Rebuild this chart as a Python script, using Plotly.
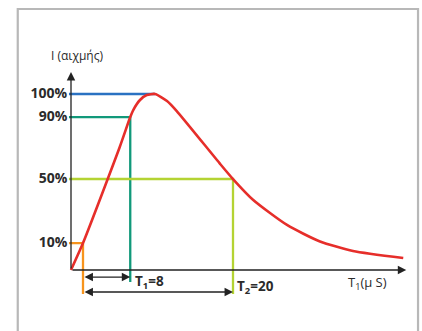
import plotly.graph_objects as go

# Curve of the impulse current (schematic units)
curve_x = [0, 1.6, 6.5, 7.9, 8.3, 9.2, 10.1, 11.2, 12.8, 14.1, 19.9, 21.6, 24.3, 28.8, 33.2, 37.6, 44.3]
curve_y = [0, 15.3, 69.9, 86.9, 90.9, 96.6, 99.4, 100, 96, 90.3, 60.2, 51.7, 39.8, 25.6, 16.2, 10.8, 6.8]

# Reference levels on the y axis
level_labels = ['100%', '90%', '50%', '10%']
level_y = [100, 86.9, 51.7, 15.3]
level_x = [11.2, 7.9, 21.6, 1.6]
level_colors = ['#2a72c2', '#11997a', '#b4d333', '#f7941d']
drop_to = [None, -6.8, -13.6, -13.6]

x_max = 44.7
y_max = 112.5

fig = go.Figure()

# outer frame (grey box, open at the bottom of the picture)
fig.add_trace(go.Scatter(x=[-7.1, -7.1, 46.27, 46.27], y=[-34.6, 148.3, 148.3, -34.6], mode='lines',
                         line=dict(color='#b8b8b8', width=2.2), hoverinfo='skip'))

# horizontal level lines and vertical drops
for lab, yv, xv, col, yd in zip(level_labels, level_y, level_x, level_colors, drop_to):
    xs = [-0.27, xv]
    ys = [yv, yv]
    if yd is not None:
        xs.append(xv)
        ys.append(yd)
    fig.add_trace(go.Scatter(x=xs, y=ys, mode='lines',
                             line=dict(color=col, width=2.3), hoverinfo='skip'))

# red curve
fig.add_trace(go.Scatter(x=curve_x, y=curve_y, mode='lines',
                         line=dict(color='#e62e2a', width=2.6, shape='spline', smoothing=0.6),
                         hoverinfo='skip'))

# tick labels
fig.add_trace(go.Scatter(x=[-0.5] * 4, y=level_y, mode='text', text=level_labels,
                         textposition='middle left',
                         textfont=dict(family='Open Sans', size=14, color='#2b2b2b', weight='bold'),
                         hoverinfo='skip'))

arrow = dict(showarrow=True, text='', axref='x', ayref='y', xref='x', yref='y',
             arrowcolor='#222222', arrowwidth=1.3, arrowhead=2, arrowsize=1.3)

# axes with arrows
fig.add_annotation(x=0, y=y_max, ax=0, ay=0, **arrow)
fig.add_annotation(x=x_max, y=0, ax=0, ay=0, **arrow)

# duration arrows T1 and T2
fig.add_annotation(x=7.9, y=-4.0, ax=1.6, ay=-4.0, arrowside='end+start', startarrowhead=2,
                   startarrowsize=1.3, **arrow)
fig.add_annotation(x=21.6, y=-12.5, ax=1.6, ay=-12.5, arrowside='end+start', startarrowhead=2,
                   startarrowsize=1.3, **arrow)

txt = dict(showarrow=False, xref='x', yref='y', xanchor='left',
           font=dict(family='Open Sans', size=13.5, color='#2b2b2b', weight='bold'))
fig.add_annotation(x=8.2, y=-6.8, text='T<sub>1</sub>=8', **txt)
fig.add_annotation(x=21.8, y=-9.7, text='T<sub>2</sub>=20', **txt)
fig.add_annotation(x=36.7, y=-7.4, text='T<sub>1</sub>(μ S)', showarrow=False, xref='x', yref='y',
                   xanchor='left', font=dict(family='Open Sans', size=13, color='#2b2b2b'))
fig.add_annotation(x=0.8, y=121.6, text='I (αιχμής)', showarrow=False, xref='x', yref='y',
                   font=dict(family='Open Sans', size=12, color='#2b2b2b'))

fig.update_layout(
    width=422, height=331,
    margin=dict(l=0, r=0, t=0, b=0),
    paper_bgcolor='white', plot_bgcolor='white',
    showlegend=False,
    xaxis=dict(range=[-71 / 7.5, 351 / 7.5], visible=False),
    yaxis=dict(range=[-61 / 1.76, 270 / 1.76], visible=False),
)

fig.write_html("out.html", config={'displayModeBar': False},
               post_script="document.body.style.margin='0';")
